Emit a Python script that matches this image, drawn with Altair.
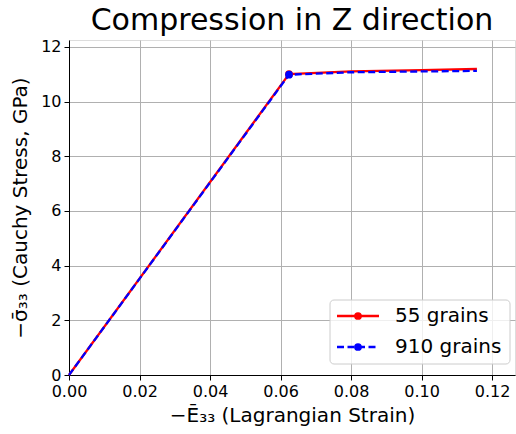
import altair as alt
import pandas as pd

# Stress-strain curves for the two polycrystal sizes
strain_55 = [0.0, 0.0624, 0.080, 0.100, 0.1157]
stress_55 = [0.0, 11.00, 11.10, 11.15, 11.19]
strain_910 = [0.0, 0.0624, 0.080, 0.100, 0.1157]
stress_910 = [0.0, 10.98, 11.07, 11.10, 11.12]

# Yield point marked on each curve
knee_strain = [0.0624, 0.0624]
knee_stress = [11.00, 10.98]

series_names = ["55 grains", "910 grains"]
series_colors = ["#ff0000", "#0000ff"]

x_ticks = [0.0, 0.02, 0.04, 0.06, 0.08, 0.10, 0.12]
y_ticks = [0, 2, 4, 6, 8, 10, 12]

FONT = "DejaVu Sans"

df55 = pd.DataFrame({"strain": strain_55, "stress": stress_55})
df910 = pd.DataFrame({"strain": strain_910, "stress": stress_910})
knee = pd.DataFrame({"strain": knee_strain, "stress": knee_stress, "series": series_names})

x_enc = alt.X(
    "strain:Q",
    scale=alt.Scale(domain=[0, 0.1265], nice=False, zero=False),
    axis=alt.Axis(
        values=x_ticks, format=".2f", title="−Ē₃₃ (Lagrangian Strain)",
        titleFontSize=20, titleFont=FONT, titleFontWeight="normal", titleColor="black",
        labelFontSize=16, labelFont=FONT, labelColor="black", labelFlush=False,
        tickColor="black", tickSize=5, domainColor="black",
        gridColor="#b0b0b0", gridWidth=1, titlePadding=6, labelPadding=3,
    ),
)
y_enc = alt.Y(
    "stress:Q",
    scale=alt.Scale(domain=[0, 12.25], nice=False),
    axis=alt.Axis(
        values=y_ticks, title="−σ̄₃₃ (Cauchy Stress, GPa)",
        titleFontSize=20, titleFont=FONT, titleFontWeight="normal", titleColor="black",
        labelFontSize=16, labelFont=FONT, labelColor="black", labelFlush=False,
        tickColor="black", tickSize=5, domainColor="black",
        gridColor="#b0b0b0", gridWidth=1, titlePadding=10, labelPadding=3,
    ),
)

red_line = alt.Chart(df55).mark_line(color=series_colors[0], strokeWidth=2.3).encode(x=x_enc, y=y_enc)
blue_line = alt.Chart(df910).mark_line(
    color=series_colors[1], strokeWidth=2.3, strokeDash=[7, 3.5]
).encode(x="strain:Q", y="stress:Q")
knee_pts = alt.Chart(knee).mark_point(filled=True, size=60, opacity=1).encode(
    x="strain:Q",
    y="stress:Q",
    color=alt.Color("series:N", scale=alt.Scale(domain=series_names, range=series_colors), legend=None),
)

# Legend box drawn in pixel space (lower-right corner of the plot)
leg_frame = alt.Chart(pd.DataFrame({"a": [0]})).mark_rect(
    fill="white", fillOpacity=0.8, stroke="#cccccc", strokeWidth=1, cornerRadius=4
).encode(x=alt.value(261), x2=alt.value(441), y=alt.value(260), y2=alt.value(324))

leg_red = alt.Chart(pd.DataFrame({"a": [0]})).mark_rule(color=series_colors[0], strokeWidth=2.3).encode(
    x=alt.value(268), x2=alt.value(310), y=alt.value(276))
leg_blue = alt.Chart(pd.DataFrame({"a": [0]})).mark_rule(
    color=series_colors[1], strokeWidth=2.3, strokeDash=[7, 3.5]).encode(
    x=alt.value(268), x2=alt.value(310), y=alt.value(307))
leg_dot_red = alt.Chart(pd.DataFrame({"a": [0]})).mark_point(
    filled=True, size=60, opacity=1, color=series_colors[0]).encode(x=alt.value(289), y=alt.value(276))
leg_dot_blue = alt.Chart(pd.DataFrame({"a": [0]})).mark_point(
    filled=True, size=60, opacity=1, color=series_colors[1]).encode(x=alt.value(289), y=alt.value(307))
leg_text = alt.Chart(pd.DataFrame({"label": series_names, "row": [276, 307]})).mark_text(
    align="left", baseline="middle", fontSize=20, font=FONT, color="black"
).encode(x=alt.value(326), y=alt.Y("row:Q", scale=None), text="label:N")

chart = alt.layer(
    red_line, blue_line, knee_pts,
    leg_frame, leg_red, leg_blue, leg_dot_red, leg_dot_blue, leg_text,
).properties(
    width=446,
    height=335,
    autosize=alt.AutoSizeParams(type="none"),
    padding={"left": 69, "top": 40, "right": 1, "bottom": 59},
    title=alt.TitleParams(
        "Compression in Z direction", fontSize=30, font=FONT, fontWeight="normal",
        color="black", anchor="middle", offset=3,
    ),
).configure_view(stroke="black", strokeWidth=1).configure(background="white")

chart.save("out.html", embed_options={"renderer": "svg", "actions": False})
